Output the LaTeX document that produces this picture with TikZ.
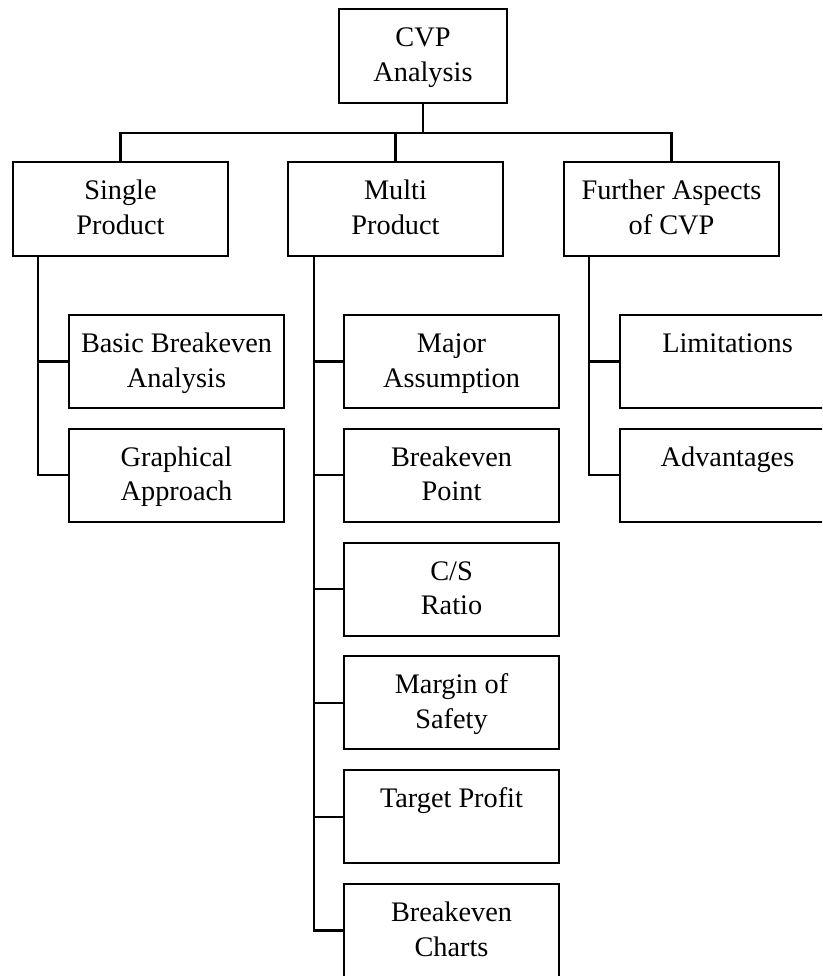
\documentclass[tikz,border=0pt]{standalone}
\usepackage{fontspec}
\setmainfont{Liberation Serif}
\usetikzlibrary{positioning}
\newcommand{\twolines}[2]{\rule{0pt}{25.5pt}#1\\#2\rule[-9pt]{0pt}{9pt}}
\tikzset{box/.style={draw, line width=2.1pt, minimum width=215pt, minimum height=93pt,
   inner sep=0pt, align=center, font=\fontsize{28.3}{34.5}\selectfont},
 link/.style={line width=2.1pt},
 }

\begin{document}
\begin{tikzpicture}[x=1pt,y=-1pt]
        \clip (0,0) rectangle (822,976);
        \useasboundingbox (0,0) rectangle (822,976);
        % top and second level
        \node[box, minimum width=168pt, minimum height=94pt] (cvp) at (423,56) {\twolines{CVP}{Analysis}};
        \node[box, minimum height=94pt] (single) at (120.5,209) {\twolines{Single}{Product}};
        \node[box, minimum height=94pt] (multi) at (395.5,209) {\twolines{Multi}{Product}};
        \node[box, minimum height=94pt] (further) at (671.5,209) {\twolines{Further Aspects}{of CVP}};
        \coordinate (bar) at (423,133);
        \draw[link] (cvp.south) -- (bar);
        \draw[link] (single.north) |- (bar) -| (further.north);
        \draw[link] (multi.north) -- (multi.north |- bar);
        % third level
        \foreach \a/\b[count=\i] in {Basic Breakeven/Analysis, Graphical/Approach} {
            \node[box] (single-\i) at (176.5, 361.5+113.8*\i-113.8) {\twolines{\a}{\b}};
            \draw[link] ([xshift=26pt]single.south west) |- (single-\i.west);
        }
        \foreach \a/\b[count=\i] in {Major/Assumption, Breakeven/Point, {C/S}/Ratio,
                Margin of/Safety, Target Profit/{}, Breakeven/Charts} {
            \node[box] (multi-\i) at (451.5, 361.5+113.8*\i-113.8) {\twolines{\a}{\b}};
            \draw[link] ([xshift=27pt]multi.south west) |- (multi-\i.west);
        }
        \foreach \a/\b[count=\i] in {Limitations/{}, Advantages/{}} {
            \node[box] (further-\i) at (727.5, 361.5+113.8*\i-113.8) {\twolines{\a}{\b}};
            \draw[link] ([xshift=26pt]further.south west) |- (further-\i.west);
        }
    \end{tikzpicture}
\end{document}
